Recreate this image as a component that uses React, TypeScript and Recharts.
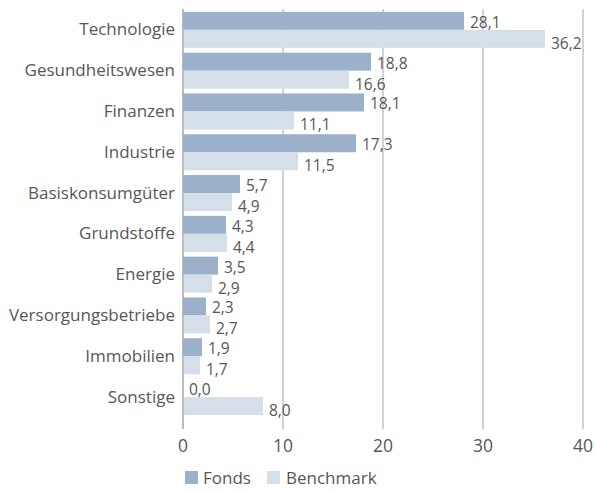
import React from 'react';
import { BarChart, Bar, XAxis, YAxis, CartesianGrid, Legend } from 'recharts';

const categories = ['Technologie', 'Gesundheitswesen', 'Finanzen', 'Industrie', 'Basiskonsumgüter', 'Grundstoffe', 'Energie', 'Versorgungsbetriebe', 'Immobilien', 'Sonstige'];
const fonds = [28.1, 18.8, 18.1, 17.3, 5.7, 4.3, 3.5, 2.3, 1.9, 0.0];
const benchmark = [36.2, 16.6, 11.1, 11.5, 4.9, 4.4, 2.9, 2.7, 1.7, 8.0];
const xTicks = [0, 10, 20, 30, 40];

const data = categories.map((c, i) => ({ name: c, fonds: fonds[i], benchmark: benchmark[i] }));

const FONT = '"Open Sans", sans-serif';
const TEXT = '#575757';
const C_FONDS = '#9AB0CB';
const C_BENCH = '#D5DFEA';

const fmt = (v: number) => v.toFixed(1).replace('.', ',');

const makeShape = (dy: number, key: string) => (props: any) => {
  const { x, y, width, height, fill, payload } = props;
  const w = Math.max(0, Number(width) || 0);
  const value = payload ? payload[key] : props.value;
  return (
    <g>
      {w > 0 && <rect x={x} y={y} width={w} height={height} fill={fill} />}
      <text x={Number(x) + w + 6} y={Number(y) + Number(height) / 2 + dy} dominantBaseline="central" fill={TEXT} fontSize={15.5} fontFamily={FONT}>
        {fmt(Number(value))}
      </text>
    </g>
  );
};

const LegendContent = () => (
  <div style={{ position: 'relative', height: 20, fontFamily: FONT, fontSize: 17, color: TEXT }}>
    <div style={{ position: 'absolute', left: 185, top: 2, width: 13, height: 13, background: C_FONDS }} />
    <div style={{ position: 'absolute', left: 203, top: -2, lineHeight: '22px' }}>Fonds</div>
    <div style={{ position: 'absolute', left: 267, top: 2, width: 13, height: 13, background: C_BENCH }} />
    <div style={{ position: 'absolute', left: 286, top: -2, lineHeight: '22px' }}>Benchmark</div>
  </div>
);

export default function App() {
  return (
    <div style={{ position: 'absolute', left: 0, top: 0, background: '#fff' }}>
      <BarChart width={596} height={491} data={data} layout="vertical" margin={{ top: 9, right: 13, bottom: 12, left: 0 }} barCategoryGap="7%" barGap={0}>
        <CartesianGrid horizontal={false} stroke="#A6A6A6" />
        <XAxis type="number" domain={[0, 40]} ticks={xTicks} axisLine={false} tickLine={false} tick={{ fill: TEXT, fontSize: 17.5, fontFamily: FONT }} tickMargin={5} height={30} />
        <YAxis type="category" dataKey="name" width={183} axisLine={{ stroke: '#A6A6A6' }} tickLine={false} tick={{ fill: TEXT, fontSize: 17, fontFamily: FONT }} tickMargin={2} padding={{ top: 0, bottom: 12 }} />
        <Legend verticalAlign="bottom" content={<LegendContent />} wrapperStyle={{ left: 0, bottom: 2, width: 596 }} />
        <Bar dataKey="fonds" fill={C_FONDS} isAnimationActive={false} shape={makeShape(1, 'fonds')} />
        <Bar dataKey="benchmark" fill={C_BENCH} isAnimationActive={false} shape={makeShape(4, 'benchmark')} />
      </BarChart>
    </div>
  );
}
